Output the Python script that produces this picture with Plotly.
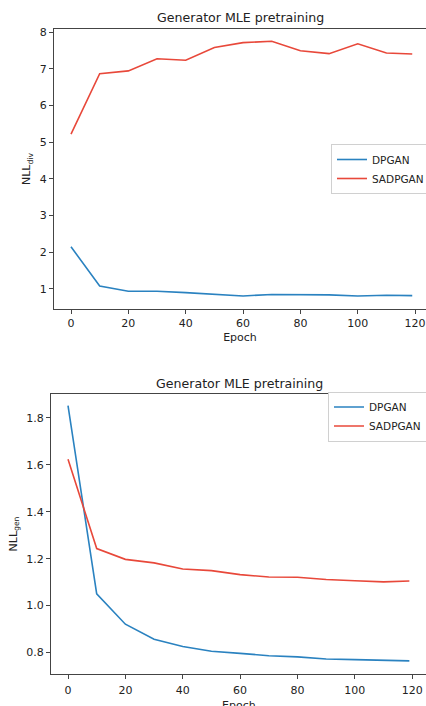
import plotly.graph_objects as go

epochs = [0, 10, 20, 30, 40, 50, 60, 70, 80, 90, 100, 110, 119]

div_dpgan = [2.15, 1.08, 0.94, 0.94, 0.90, 0.85, 0.81, 0.85, 0.85, 0.84, 0.81, 0.83, 0.82]
div_sadpgan = [5.22, 6.865, 6.94, 7.27, 7.23, 7.58, 7.71, 7.75, 7.49, 7.41, 7.68, 7.43, 7.40]

gen_dpgan = [1.851, 1.050, 0.921, 0.857, 0.826, 0.806, 0.797, 0.787, 0.782, 0.773, 0.770, 0.766, 0.765]
gen_sadpgan = [1.623, 1.243, 1.197, 1.182, 1.156, 1.149, 1.132, 1.122, 1.121, 1.111, 1.106, 1.101, 1.105]

series_names = ["DPGAN", "SADPGAN"]
colors = ["#2a82c0", "#e8483a"]

W, H = 426, 706
fig = go.Figure()

for vals, name, col in zip([div_dpgan, div_sadpgan], series_names, colors):
    fig.add_trace(go.Scatter(x=epochs, y=vals, mode="lines", name=name,
                             line=dict(color=col, width=1.6),
                             xaxis="x", yaxis="y", legend="legend"))
for vals, name, col in zip([gen_dpgan, gen_sadpgan], series_names, colors):
    fig.add_trace(go.Scatter(x=epochs, y=vals, mode="lines", name=name,
                             line=dict(color=col, width=1.6),
                             xaxis="x2", yaxis="y2", legend="legend2"))

font = dict(family="DejaVu Sans", size=11, color="#222")
axcommon = dict(showgrid=False, zeroline=False, showline=True, linecolor="#444",
                linewidth=1, ticks="outside", ticklen=4, tickcolor="#444",
                tickfont=font, automargin=False)
legfont = dict(family="DejaVu Sans", size=10.5, color="#222")
titlefont = dict(family="DejaVu Sans", size=11, color="#222")

fig.update_layout(
    width=W, height=H,
    margin=dict(l=0, r=0, t=0, b=0, autoexpand=False),
    paper_bgcolor="white", plot_bgcolor="white",
    font=font,
    xaxis=dict(domain=[54 / W, 1], range=[-5.93, 123.8], tickvals=[0, 20, 40, 60, 80, 100, 120],
               mirror=True, anchor="y",
               title=dict(text="Epoch", font=titlefont, standoff=4),
               **axcommon),
    yaxis=dict(domain=[1 - 309 / H, 1 - 29 / H], range=[0.455, 8.082], tickvals=[1, 2, 3, 4, 5, 6, 7, 8],
               anchor="x",
               title=dict(text="NLL<sub>div</sub>", font=titlefont, standoff=6),
               **axcommon),
    xaxis2=dict(domain=[51 / W, 1], range=[-5.93, 124.8], tickvals=[0, 20, 40, 60, 80, 100, 120],
                mirror=True, anchor="y2", ticklabelstandoff=2,
                **axcommon),
    yaxis2=dict(domain=[1 - 674 / H, 1 - 394 / H], range=[0.709, 1.901],
                tickvals=[0.8, 1.0, 1.2, 1.4, 1.6, 1.8], tickformat=".1f",
                anchor="x2",
                title=dict(text="NLL<sub>gen</sub>", font=titlefont, standoff=6),
                **axcommon),
    legend=dict(x=430 / W, xanchor="right", y=1 - 169 / H, yanchor="middle",
                bordercolor="#d0d0d0", borderwidth=1, bgcolor="white",
                font=legfont, itemwidth=30, tracegroupgap=0),
    legend2=dict(x=427 / W, xanchor="right", y=1 - 416.5 / H, yanchor="middle",
                 bordercolor="#d0d0d0", borderwidth=1, bgcolor="white",
                 font=legfont, itemwidth=30, tracegroupgap=0),
    annotations=[
        dict(text="Generator MLE pretraining", x=241 / W, y=1 - 17 / H, xref="paper", yref="paper",
             xanchor="center", yanchor="middle",
             showarrow=False, font=dict(family="DejaVu Sans", size=12.6, color="#222")),
        dict(text="Generator MLE pretraining", x=239 / W, y=1 - 383 / H, xref="paper", yref="paper",
             xanchor="center", yanchor="middle",
             showarrow=False, font=dict(family="DejaVu Sans", size=12.6, color="#222")),
        dict(text="Epoch", x=239 / W, y=1 - 697 / H, xref="paper", yref="paper",
             xanchor="center", yanchor="top",
             showarrow=False, font=titlefont),
    ],
)

fig.write_html("out.html", config={"displayModeBar": False},
               post_script="document.body.style.margin='0';document.body.style.overflow='hidden';"
                           "document.documentElement.style.overflow='hidden';")
